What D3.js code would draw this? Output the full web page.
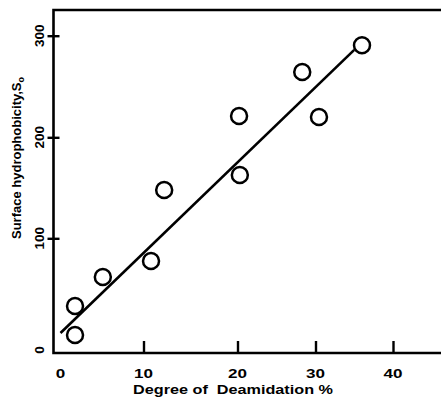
<!DOCTYPE html>
<html>
<head>
<meta charset="utf-8">
<script src="https://cdn.jsdelivr.net/npm/d3@7"></script>
<style>
  body { margin: 0; background: #fff; }
  text { font-family: "Liberation Sans", Arial, sans-serif; font-weight: bold; fill: #000; }
</style>
</head>
<body>
<div id="viz"></div>
<script>
// data
const deamidation = [1.75, 1.75, 5.1, 10.8, 12.2, 20.2, 20.3, 28.3, 30.45, 36.0];
const hydrophobicity = [39.4, 13.4, 65.4, 79.7, 147.8, 221, 162.7, 264.3, 220, 290.6];
const fitX = [0, 35.0];
const fitY = [15.2, 286];
const xTicks = [0, 10, 20, 30, 40];
const yTicks = [0, 100, 200, 300];

const W = 441, H = 408;
const frameLeft = 53.5, frameTop = 10, frameBottom = 353;

// the hand drawn axes are not evenly spaced, so use piecewise scales
let x = d3.scaleLinear().domain(xTicks).range([60.5, 143.5, 237.5, 315.5, 393]);
let y = d3.scaleLinear().domain(yTicks).range([350, 238.3, 137.3, 35.7]);

let svg = d3.select('#viz').append('svg')
    .attr('width', W)
    .attr('height', H);

// frame: left, top and bottom, open on the right
svg.append('path')
    .attr('d', `M${W},${frameTop}H${frameLeft}V${frameBottom}H${W}`)
    .attr('fill', 'none')
    .attr('stroke', '#000')
    .attr('stroke-width', 2.6);

// x axis ticks
let gx = svg.append('g')
    .attr('transform', `translate(0,${frameBottom})`)
    .call(d3.axisBottom(x).tickValues(xTicks.filter(d => d > 0)).tickSizeInner(-12).tickSizeOuter(0).tickFormat(''));
gx.select('.domain').remove();
gx.selectAll('.tick line')
    .attr('stroke', '#000')
    .attr('stroke-width', 2.4);

svg.selectAll('.xlab')
    .data(xTicks)
    .enter()
    .append('text')
    .attr('class', 'xlab')
    .attr('x', d => x(d))
    .attr('y', 378)
    .attr('text-anchor', 'middle')
    .attr('font-size', 13.5)
    .attr('textLength', d => String(d).length * 9.5)
    .attr('lengthAdjust', 'spacingAndGlyphs')
    .text(d => d);

// y axis ticks
let gy = svg.append('g')
    .attr('transform', `translate(${frameLeft},0)`)
    .call(d3.axisLeft(y).tickValues(yTicks.filter(d => d > 0)).tickSizeOuter(0).tickFormat(''));
gy.select('.domain').remove();
gy.selectAll('.tick line')
    .attr('x1', -6)
    .attr('x2', 6)
    .attr('stroke', '#000')
    .attr('stroke-width', 2.4);

// rotated y labels, each in its own group
let ylab = svg.selectAll('.ylab')
    .data(yTicks)
    .enter()
    .append('g')
    .attr('class', 'ylab')
    .attr('transform', d => `translate(43.5,${y(d)})`);
ylab.append('text')
    .attr('transform', 'rotate(-90)')
    .attr('text-anchor', 'middle')
    .attr('font-size', 13.5)
    .text(d => String(d));

// axis titles
svg.append('text')
    .attr('x', 233)
    .attr('y', 394)
    .attr('text-anchor', 'middle')
    .attr('font-size', 13)
    .attr('textLength', 200)
    .attr('lengthAdjust', 'spacingAndGlyphs')
    .style('white-space', 'pre')
    .text('Degree of  Deamidation %');

let yt = svg.append('text')
    .attr('transform', 'translate(21,158) rotate(-90)')
    .attr('text-anchor', 'middle')
    .attr('font-size', 13);
yt.append('tspan').text('Surface hydrophobicity,S');
yt.append('tspan').attr('font-size', 9).attr('dy', 3).text('o');

// fitted line
svg.append('line')
    .attr('x1', x(fitX[0]))
    .attr('y1', y(fitY[0]))
    .attr('x2', x(fitX[1]))
    .attr('y2', y(fitY[1]))
    .attr('stroke', '#000')
    .attr('stroke-width', 2.6);

// points
svg.selectAll('circle')
    .data(deamidation)
    .enter()
    .append('circle')
    .attr('cx', d => x(d))
    .attr('cy', (d, i) => y(hydrophobicity[i]))
    .attr('r', 8)
    .attr('fill', 'none')
    .attr('stroke', '#000')
    .attr('stroke-width', 2.5);
</script>
</body>
</html>
